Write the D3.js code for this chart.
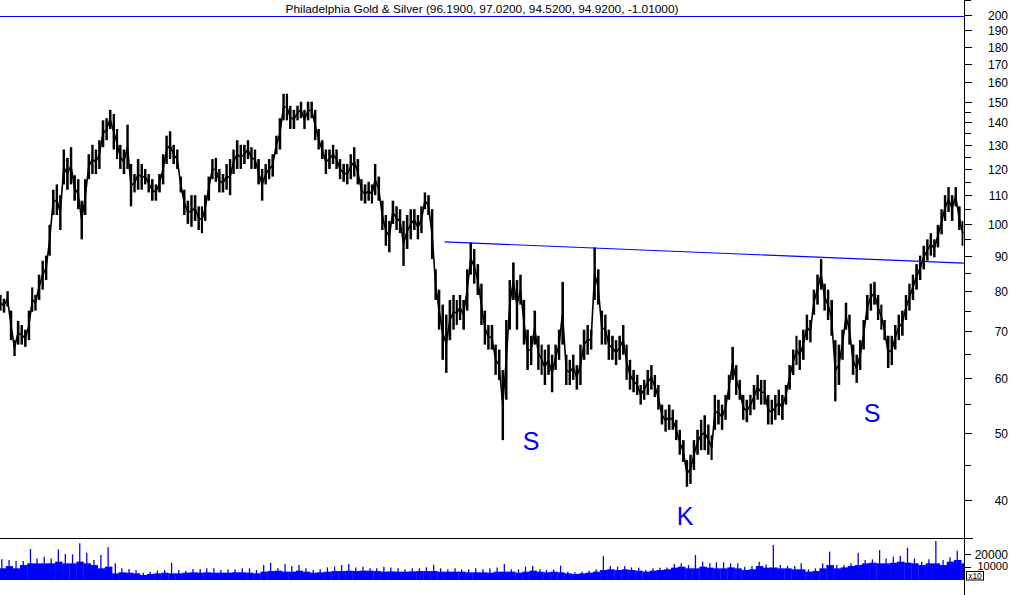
<!DOCTYPE html>
<html><head><meta charset="utf-8">
<script src="https://cdn.jsdelivr.net/npm/d3@7"></script>
<style>body{margin:0;background:#fff} svg{display:block} text{font-family:"Liberation Sans",Arial,sans-serif}</style>
</head><body><svg id="c" width="1012" height="595"></svg>
<script>
const title = "Philadelphia Gold & Silver (96.1900, 97.0200, 94.5200, 94.9200, -1.01000)";
const yearLabels = ["1993","1994","1995","1996","1997","1998","1999","2000","2001","2002","2003","2004"];
const priceTicks = [40,50,60,70,80,90,100,110,120,130,140,150,160,170,180,190,200];
const priceMinorTicks = [45,55,65,75,85,95,105,115,125,135,145,210];
const volumeTicks = [10000,20000];

// semi-monthly [high, low] samples (1st and 16th of each month)
const p1992 = [[79,75],[78,74.5],[80,76],[75,68],[68,64.5],[72.5,67]];
const p1993 = [[71.5,67],[70.4,66.5],[75,68],[81,74.7],[79,75],[84.5,77.7],[88.5,80.4],[90,83],[99.7,90],[112,103],[114,103],[110,98],[128,114],[124.5,112],[129,114],[117.5,108],[116,105],[108,95],[116,103],[126,116],[130,118],[128,118],[132,120],[141,129]];
const p1994 = [[142,132],[146,137],[144,128],[137,124],[130,120],[128,118],[139,120],[122,106],[118,111],[124,112],[122,112],[120,114],[118,111],[116,108],[114,108],[118,111],[126,114],[134,122],[136,124],[130,122],[128,120],[117,111],[112,103],[108,100]];
const p1995 = [[110,99],[110,101],[106,98],[106,97],[110,101],[117,108],[124,116],[124.5,115],[120,111],[118,111],[122,112],[124,110],[128,118],[132,120],[130,120],[130,122],[132,124],[129,120],[128,120],[124,114],[120,108],[122,114],[124,116],[126,117]];
const p1996 = [[134,126],[142,128],[154,141],[154,141],[148,137],[146,137],[148,141],[150,142],[146,137],[150,141],[150,142],[146,132],[137,128],[132,124],[128,118],[128,120],[130,122],[128,120],[124,116],[122,115],[122,114],[126,116],[129,117],[124,114]];
const p1997 = [[116,108],[114,107],[115,108],[114,107],[122,110],[117,108],[108,98],[103,93],[101,91],[108,100],[106,98],[105,97],[101,87],[103,92],[105,95],[105,98],[103,95],[106,97],[111,105],[110,103],[105,89],[86,77.7],[80.4,70.4],[76.5,63.7]];
const p1998 = [[74,61],[77.7,68],[79,70.4],[77.7,71.5],[79,72.7],[77.7,70.4],[86,75],[94,84.5],[92,82],[87.5,79],[82,71.5],[75,67],[71.5,65.9],[71.5,65.9],[67,60.6],[65.9,59.6],[61.6,48.8],[72.7,55.8],[83,70.4],[88,77.7],[83,70.4],[84.5,76.5],[77.7,67],[70.4,61.6]];
const p1999 = [[69,62.6],[75,67],[69,61.6],[67,60.6],[65.9,58.6],[67,60.6],[64.8,57.2],[67,61.6],[70.4,63.7],[82.5,67],[64.8,58.6],[63.7,58.6],[64.8,59.6],[62.6,57.7],[67,58.6],[70.4,63.7],[71.5,64.8],[70.4,65.9],[92.5,77.7],[86,76.5],[75,67],[74,67],[70.4,63.7],[69,63.7]];
const p2000 = [[68,62.6],[69,63.7],[71.5,64.8],[67,59.6],[63.7,57.7],[61.6,57.2],[60.6,56.7],[58.6,54.9],[59.6,55.8],[61.6,56.7],[62.6,57.7],[60.6,56.3],[58.6,54],[54.9,51.4],[54,50.2],[54.9,50.5],[54,50.5],[52.2,48.8],[50.5,46.5],[48.8,45.4],[45.7,41.8],[46.5,42.2],[48.8,44.2],[50.5,46.5]];
const p2001 = [[52.2,47.2],[53,47.2],[51.4,46.5],[49.6,45.7],[56.7,50.5],[55.8,51.4],[54.9,50.5],[56.7,52.2],[60.6,55.8],[66.5,59.6],[62.6,56.7],[59.6,55.8],[56.7,52.2],[55.8,51.8],[56.7,53],[58.6,54],[60.6,55.8],[59.6,54.9],[59.6,54.9],[56.7,51.4],[55.8,51.4],[56.7,52.2],[57.7,53],[56.7,52.2]];
const p2002 = [[58.6,54.9],[62.6,57.7],[65.9,60.6],[69,62.6],[68,61.6],[70.4,63.7],[74,68],[72.7,67.5],[80.4,74],[84.5,76.5],[89,80.4],[82,75],[80.4,72.7],[77.7,69],[68,55.5],[67,58.6],[70.4,63.7],[77,70.4],[74,67],[67,60.6],[64.8,59],[68,61.6],[72.7,65.9],[79,72.7]];
const p2003 = [[82,75],[82.5,76.5],[79,72.7],[76.5,70.4],[72.7,68],[69,62],[69,62.6],[71.5,65.9],[74,68],[75,69],[79,72.7],[82,75],[84.5,77.7],[87.5,80.4],[90,83],[93,86],[95,88.5],[97,90],[95,89.5],[99.7,92.5],[105,96.6],[110,101],[113,104],[110,101]];
const p2004 = [[113,106],[106,98],[101,93]];
const priceYears = [1992,1993,1994,1995,1996,1997,1998,1999,2000,2001,2002,2003,2004];
const priceByYear = [p1992,p1993,p1994,p1995,p1996,p1997,p1998,p1999,p2000,p2001,p2002,p2003,p2004];

// monthly volume (typical level and highest spike), from Oct 1992
const volStart = [1992, 9];
const volLevel = [9000,10700,9000,
 11500,12800,12800,12800,12800,14100,12800,12800,14100,12800,11500,9000,
 10240,5120,5900,5630,5120,3840,4600,5120,5630,5120,5120,5630,
 5900,5630,5900,5630,5630,5630,5900,5900,5630,5120,6400,6900,
 7170,6400,6400,7170,6400,5630,5900,6400,6900,6900,7170,6900,
 7170,7170,6900,6400,6650,6400,6400,6650,6900,6900,6900,6400,
 6400,6400,6400,5900,5900,5900,5630,6400,6400,6400,5630,6400,
 7170,6400,5900,6400,5900,5120,4600,5120,5630,6400,7680,8200,
 7680,8200,7680,7170,6400,7170,7680,8200,9500,10240,8960,8960,
 10240,9500,8960,8960,9700,8960,7680,8200,10750,9500,9700,8960,
 8960,8200,8200,6400,6900,8960,11500,8960,9700,10750,11500,12800,
 13300,12800,12800,13300,14100,13300,12800,11500,12800,12800,11500,14100,
 15400,12800];
const volPeak = [15900,15400,14600,
 14600,23800,16600,17900,16600,23550,20000,19700,28200,21000,15400,19200,
 25100,12800,8960,8450,7680,5630,6400,7170,7680,13300,7680,7170,
 8450,8450,8960,8960,7680,8200,8200,8960,8960,7680,11500,13300,
 8960,12300,10750,11500,8960,7680,8200,9700,10240,11500,12300,9700,
 10240,8960,8960,10240,9700,8960,8200,8960,8960,9700,11800,8960,
 8200,8960,8200,8200,8960,8200,8960,9700,12300,8200,8200,10240,
 10750,8200,7680,8200,11000,6400,5900,6400,7170,8200,18400,10750,
 10240,10750,9700,9500,7680,8960,9500,9700,12300,12800,11500,19200,
 14100,12800,13600,13600,12800,12800,10240,10750,14100,12000,26900,11500,
 11000,10750,12800,8200,8960,12800,21800,11500,11500,12800,21000,15400,
 15900,23000,16600,17900,18400,24800,16600,14100,15900,30000,15400,17400,
 22500,12800];

const trendDates = ["1998-01-01","2004-02-12"];
const trendValues = [94.2, 87.8];
const notes = ["S","K","S"];
const noteDates = ["1999-01-08","2000-11-01","2003-01-14"];
const noteValues = [47.25, 36.8, 51.9];

// ---- build ----
const svg = d3.select("#c");
const axisX = 964;
const x = d3.scaleTime().domain([new Date(1993,0,1), new Date(2004,0,1)]).range([20,954]);
const y = d3.scaleLog().domain([35.27, 210.2]).range([538, 0]);
const yv = d3.scaleLinear().domain([0, 32300]).range([580, 538]);

svg.append("defs").append("clipPath").attr("id","plot").append("rect").attr("x",0).attr("y",0).attr("width",axisX).attr("height",580);

const samples = [];
priceYears.forEach((yr, i) => {
  const off = yr === 1992 ? 18 : 0;
  priceByYear[i].forEach((hl, j) => {
    const k = j + off;
    samples.push({d: new Date(yr, Math.floor(k/2), k%2 ? 16 : 1), hi: hl[0], lo: hl[1]});
  });
});

const g = svg.append("g").attr("clip-path","url(#plot)");
// price bars (high-low ranges)
samples.forEach((s, i) => {
  const x0 = x(s.d);
  const x1 = i < samples.length-1 ? x(samples[i+1].d) : x0 + 2.5;
  const w = (x1 - x0);
  g.append("rect").attr("x", x0 + w*0.15).attr("width", w*0.7)
    .attr("y", y(s.hi)).attr("height", Math.max(1, y(s.lo) - y(s.hi))).attr("fill","#000");
});
g.append("path").datum(samples)
  .attr("d", d3.line().x(s => x(s.d) + 1.7).y(s => (y(s.hi)+y(s.lo))/2))
  .attr("fill","none").attr("stroke","#000").attr("stroke-width",1.6);

// trend line
g.append("line").attr("x1", x(new Date(trendDates[0]))).attr("x2", x(new Date(trendDates[1])))
  .attr("y1", y(trendValues[0])).attr("y2", y(trendValues[1]))
  .attr("stroke","#0000ff").attr("stroke-width",1.1);

// volume
volLevel.forEach((v, i) => {
  const d0 = new Date(volStart[0], volStart[1] + i, 1);
  const d1 = new Date(volStart[0], volStart[1] + i + 1, 1);
  const dm = new Date(volStart[0], volStart[1] + i, 15);
  g.append("rect").attr("x", x(d0)).attr("width", x(d1) - x(d0) + 0.3)
    .attr("y", yv(v)).attr("height", yv(0) - yv(v)).attr("fill","#0000ff");
  g.append("line").attr("x1", x(dm)).attr("x2", x(dm)).attr("y1", yv(0)).attr("y2", yv(volPeak[i]))
    .attr("stroke","#0000ff").attr("stroke-width",1.3);
});

// title
svg.append("text").attr("x", 482).attr("y", 13).attr("text-anchor","middle")
  .attr("font-size", 11.5).attr("textLength", 393).attr("lengthAdjust","spacingAndGlyphs").text(title);
svg.append("line").attr("x1",0).attr("x2",axisX).attr("y1",16.5).attr("y2",16.5).attr("stroke","#0000ff");

// panel separator
svg.append("line").attr("x1",0).attr("x2",973).attr("y1",538.5).attr("y2",538.5).attr("stroke","#000");
// right axis
svg.append("line").attr("x1",axisX+0.5).attr("x2",axisX+0.5).attr("y1",0).attr("y2",595).attr("stroke","#000");
priceTicks.forEach(t => {
  const yy = Math.round(y(t)) + 0.5;
  svg.append("line").attr("x1",axisX).attr("x2",axisX+8).attr("y1",yy).attr("y2",yy).attr("stroke","#000");
  svg.append("text").attr("x",1008).attr("y",yy).attr("dy","0.36em").attr("text-anchor","end").attr("font-size",12).text(t);
});
priceMinorTicks.forEach(t => {
  const yy = Math.round(y(t)) + 0.5;
  svg.append("line").attr("x1",axisX).attr("x2",axisX+7).attr("y1",yy).attr("y2",yy).attr("stroke","#000");
});
volumeTicks.forEach((t, i) => {
  const yy = Math.round(yv(t)) + 0.5;
  svg.append("line").attr("x1",axisX).attr("x2",axisX+7).attr("y1",yy).attr("y2",yy).attr("stroke","#000");
  svg.append("text").attr("x",1008).attr("y", i === 0 ? yy - 1.5 : yy).attr("dy","0.36em").attr("text-anchor","end")
    .attr("font-size", i === 0 ? 11 : 12).text(t);
});
svg.append("rect").attr("x",966.5).attr("y",571.5).attr("width",17).attr("height",8.5).attr("fill","#fff").attr("stroke","#000");
svg.append("text").attr("x",975).attr("y",579).attr("text-anchor","middle").attr("font-size",8.5).text("x10");

// x axis
const xa = svg.append("g").attr("clip-path","url(#plot)");
yearLabels.forEach(lbl => {
  const xx = Math.round(x(new Date(+lbl,0,1))) + 0.5;
  xa.append("line").attr("x1",xx).attr("x2",xx).attr("y1",580).attr("y2",595).attr("stroke","#000");
  xa.append("text").attr("x",xx+2.5).attr("y",592).attr("font-size",12).text(lbl);
});

// annotations
notes.forEach((n, i) => {
  svg.append("text").attr("x", x(new Date(noteDates[i]))).attr("y", y(noteValues[i]))
    .attr("text-anchor","middle").attr("font-size",25).attr("fill","#0000ff").text(n);
});
</script></body></html>
